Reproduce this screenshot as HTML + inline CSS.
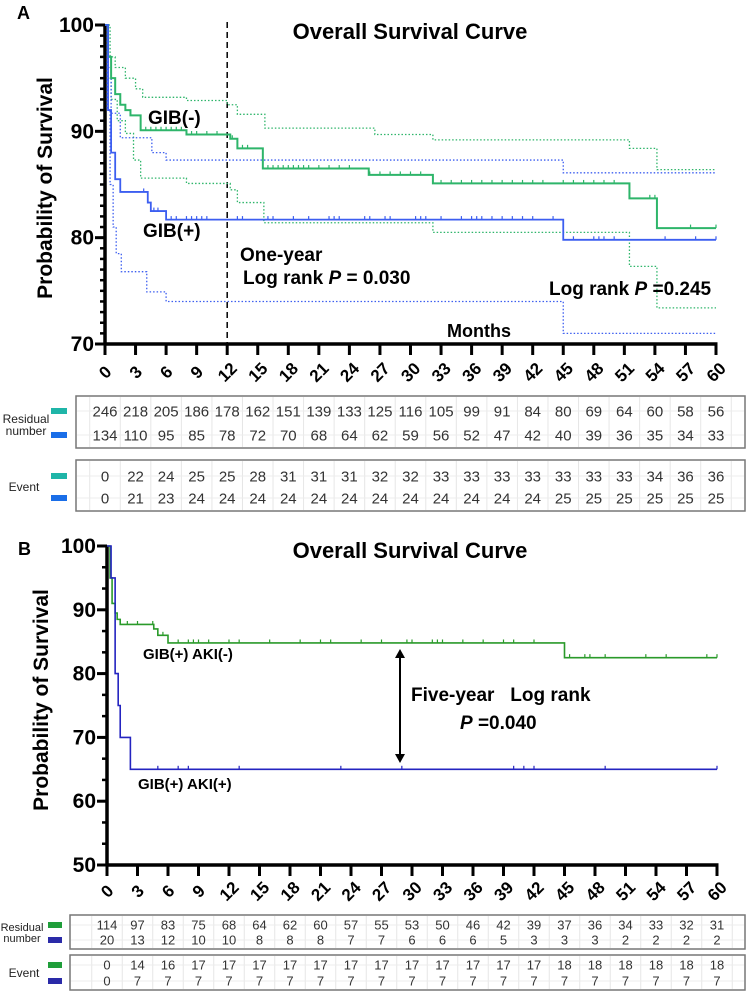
<!DOCTYPE html>
<html><head><meta charset="utf-8"><style>
body{margin:0;background:#fff;}
svg{display:block;font-family:"Liberation Sans",Arial,sans-serif;}
</style></head><body>
<svg id="s" width="748" height="991" viewBox="0 0 748 991" xmlns="http://www.w3.org/2000/svg">
<g id="gA"></g>
<g id="gB"></g>
</svg>
<script>
// ---------- Panel A data ----------
const xTicks=[0,3,6,9,12,15,18,21,24,27,30,33,36,39,42,45,48,51,54,57,60];
const aYTicks=[70,80,90,100];
const aNegT=[0,0.3,0.6,1,1.5,2,2.5,3.5,8,12.3,13,15.5,25.9,32.2,51.5,54.2];
const aNegV=[100,97,95,93.5,92.5,92,91.5,90.1,89.7,89.3,88.4,86.5,85.9,85.1,83.7,80.9];
const aPosT=[0,0.3,0.6,1,1.5,4.2,4.5,6,45];
const aPosV=[100,92,88,85.5,84.3,83.3,82.5,81.7,79.8];
const aNegUpT=[0,0.5,1,2,3,3.7,8,12,13,15.7,26.5,32.2,51.5,54.2];
const aNegUpV=[100,97,96,95,94,93.2,92.9,92.5,91.6,90.3,89.7,89.2,88.4,86.4];
const aNegLoT=[0,0.3,0.6,1.2,2,2.8,3.5,8,12.3,13,15.6,32.2,51.5,54.2];
const aNegLoV=[100,95,93,91,89.8,87.3,85.6,85.1,84.5,83.3,81.4,80.5,77.3,73.4];
const aPosUpT=[0,0.3,0.6,1.5,4.6,6,45];
const aPosUpV=[100,96,91.7,89.4,88,87.3,86.1];
const aPosLoT=[0,0.2,0.5,0.8,1.1,1.6,4.1,6,45];
const aPosLoV=[100,92,85,81,78.5,76.8,74.9,74,71];
const aNegCens=[4,4.5,5,5.5,6,6.5,7,7.5,8.5,9,10,11,12.5,13.5,14,16,16.5,17,17.5,18,18.5,19,19.5,20,21,22,23,24,26,27,28,29,30,31,33,34,35,36,37,38,39,40,41,42,43,45,46,47,48,49,50,53.5,54,57.5,60];
const aPosCens=[3.8,4.8,5.2,6.5,7,8,8.5,9,9.5,10,13,13.5,16,16.5,18.5,20,22,22.5,23,25.5,26,27.5,28,30.5,31,31.5,33,35,36,36.5,37,38,39,40,41,42,44,46,48,48.5,49,50,55,58,60];
const aResNeg=[246,218,205,186,178,162,151,139,133,125,116,105,99,91,84,80,69,64,60,58,56];
const aResPos=[134,110,95,85,78,72,70,68,64,62,59,56,52,47,42,40,39,36,35,34,33];
const aEvNeg=[0,22,24,25,25,28,31,31,31,32,32,33,33,33,33,33,33,33,34,36,36];
const aEvPos=[0,21,23,24,24,24,24,24,24,24,24,24,24,24,24,25,25,25,25,25,25];
// ---------- Panel B data ----------
const bYTicks=[50,60,70,80,90,100];
const bNegT=[0,0.3,0.5,0.8,1,1.3,4.6,5,6,45];
const bNegV=[100,95,91,89.5,88.5,87.7,87,86,84.8,82.5];
const bPosT=[0,0.4,0.8,1.1,1.3,2.3];
const bPosV=[100,95,80,75,70,65];
const bNegCens=[2,3,4.5,5,5.5,7,8,8.5,9,10,12,13,16,19,21,22,25,27,29.5,30,32,32.5,33,35,37,39,40,42,45.5,47,47.5,49,53,55,59,60];
const bPosCens=[5,7,8,13,23,29,40,41,42,49,60];
const bResNeg=[114,97,83,75,68,64,62,60,57,55,53,50,46,42,39,37,36,34,33,32,31];
const bResPos=[20,13,12,10,10,8,8,8,7,7,6,6,6,5,3,3,3,2,2,2,2];
const bEvNeg=[0,14,16,17,17,17,17,17,17,17,17,17,17,17,17,18,18,18,18,18,18];
const bEvPos=[0,7,7,7,7,7,7,7,7,7,7,7,7,7,7,7,7,7,7,7,7];

const NS='http://www.w3.org/2000/svg';
function el(p,tag,attrs,txt){const e=document.createElementNS(NS,tag);for(const k in attrs)e.setAttribute(k,attrs[k]);if(txt!==undefined)e.textContent=txt;p.appendChild(e);return e;}
function stepPath(T,V,X,Y){let d='M'+X(T[0])+','+Y(V[0]);for(let i=1;i<T.length;i++){d+=' H'+X(T[i])+' V'+Y(V[i]);}d+=' H'+X(60);return d;}
function valAt(T,V,t){let v=V[0];for(let i=0;i<T.length;i++){if(T[i]<=t)v=V[i];}return v;}

function axes(g,X,Y,yTicks,yMin,minorStep,tickLabelY){
  const x0=X(0),y0=Y(yMin);
  for(let v=yMin;v<=100.01;v+=minorStep){
    const t=el(g,'line',{x1:x0-5,x2:x0,y1:Y(v),y2:Y(v),stroke:'#000','stroke-width':2.5});
    
    
  }
  yTicks.forEach(v=>{
    const t=el(g,'line',{x1:x0-10,x2:x0,y1:Y(v),y2:Y(v),stroke:'#000','stroke-width':3});
    
    
    const l=el(g,'text',{x:x0-11,y:Y(v)+7,'text-anchor':'end','font-size':21,'font-weight':'bold'},v);
    
    
  });
  xTicks.forEach(v=>{
    const t=el(g,'line',{x1:X(v),x2:X(v),y1:y0,y2:y0+11,stroke:'#000','stroke-width':3});
    
    
    const l=el(g,'text',{x:X(v),y:tickLabelY,'text-anchor':'middle','font-size':17,'font-weight':'bold',transform:'rotate(-45 '+X(v)+' '+(tickLabelY-6)+')'},v);
    
    
  });
  const ya=el(g,'line',{x1:x0,x2:x0,y1:Y(100),y2:y0+1.5,stroke:'#000','stroke-width':3.5});
  
  
  const xa=el(g,'line',{x1:x0-1.5,x2:X(60)+1.5,y1:y0,y2:y0,stroke:'#000','stroke-width':3.5});
  
  
}
function curve(g,T,V,X,Y,color,w,dash,name){
  const p=el(g,'path',{d:stepPath(T,V,X,Y),fill:'none',stroke:color,'stroke-width':w});
  if(dash)p.setAttribute('stroke-dasharray',dash);
  
  
}
function censors(g,C,T,V,X,Y,color,name){
  C.forEach(t=>{
    const y=Y(valAt(T,V,t));
    const c=el(g,'line',{x1:X(t),x2:X(t),y1:y-3.5,y2:y,stroke:color,'stroke-width':1.2});
    
    
  });
}
function table(g,X,top,rows,colors,label,lx,ly,name){
  const h=top.h;
  const bx=el(g,'rect',{x:top.x0,y:top.y,width:745-top.x0,height:h,fill:'#fff',stroke:'#777','stroke-width':1.5});
  
  
  for(let i=0;i<=21;i++){
    const gx=X(i*3-1.5);
    if(gx>top.x0&&gx<745){const gl=el(g,'line',{x1:gx,x2:gx,y1:top.y+1,y2:top.y+h-1,stroke:'#e6e6e6','stroke-width':1});
    
    }
  }
  rows.forEach((r,ri)=>{
    const ry=top.rowY[ri];
    const hl=el(g,'line',{x1:top.x0+1,x2:744,y1:ry,y2:ry,stroke:'#ececec','stroke-width':1});
    
    
    const sw=el(g,'rect',{x:top.swx,y:ry-3,width:top.sww,height:6,fill:colors[ri]});
    
    
    r.forEach((v,i)=>{
      const t=el(g,'text',{x:X(xTicks[i]),y:ry+top.fs*0.36,'text-anchor':'middle','font-size':top.fs,fill:'#333'},v);
      
      
    });
  });
  label.forEach((s,i)=>{
    const t=el(g,'text',{x:lx,y:ly[i],'text-anchor':'middle','font-size':top.lfs,fill:'#222'},s);
    
    
  });
}
function txt(g,x,y,s,fs,name,opts){
  const t=el(g,'text',Object.assign({x:x,y:y,'font-size':fs,'font-weight':'bold'},opts||{}));
  if(Array.isArray(s)){s.forEach(p=>{el(t,'tspan',p.i?{'font-style':'italic'}:{},p.t);});}else t.textContent=s;
  
  
  return t;
}

// ===== Panel A =====
const gA=document.getElementById('gA');
const XA=t=>105+t*(611/60);
const YA=v=>25+(100-v)*(319/30);
const GA='#2eb56a',BA='#3c5ef0';
axes(gA,XA,YA,aYTicks,70,1,378);
const vl=el(gA,'line',{x1:XA(12),x2:XA(12),y1:22,y2:344,stroke:'#000','stroke-width':1.5,'stroke-dasharray':'6,4'});


curve(gA,aNegUpT,aNegUpV,XA,YA,GA,1.3,'1.5,2','gib-neg-upper-ci');
curve(gA,aNegLoT,aNegLoV,XA,YA,GA,1.3,'1.5,2','gib-neg-lower-ci');
curve(gA,aPosUpT,aPosUpV,XA,YA,BA,1.3,'1.5,2','gib-pos-upper-ci');
curve(gA,aPosLoT,aPosLoV,XA,YA,BA,1.3,'1.5,2','gib-pos-lower-ci');
curve(gA,aNegT,aNegV,XA,YA,GA,2,null,'gib-neg-curve');
curve(gA,aPosT,aPosV,XA,YA,BA,1.8,null,'gib-pos-curve');
censors(gA,aNegCens,aNegT,aNegV,XA,YA,GA,'gib-neg-censor');
censors(gA,aPosCens,aPosT,aPosV,XA,YA,BA,'gib-pos-censor');
txt(gA,17,19,'A',18,'panel-a-label');
txt(gA,410,39,'Overall Survival Curve',22,'panel-a-title',{'text-anchor':'middle'});
txt(gA,0,0,'Probability of Survival',21,'panel-a-y-axis-title',{'text-anchor':'middle',transform:'translate(52,188) rotate(-90)'});
txt(gA,148,124,'GIB(-)',19,'gib-neg-label');
txt(gA,143,237,'GIB(+)',19,'gib-pos-label');
txt(gA,240,261,'One-year',19,'one-year-label');
txt(gA,243,284,[{t:'Log rank '},{t:'P',i:1},{t:' = 0.030'}],19,'one-year-p-value');
txt(gA,549,295,[{t:'Log rank '},{t:'P',i:1},{t:' =0.245'}],19,'overall-p-value');
txt(gA,447,337,'Months',18,'x-axis-title');
table(gA,XA,{x0:76,y:396,h:52,rowY:[411,435],swx:51,sww:16,fs:15,lfs:12},[aResNeg,aResPos],['#1fb5a8','#1a6ee8'],['Residual','number'],26,[423,435],'residual-table-a');
table(gA,XA,{x0:76,y:460,h:51,rowY:[476,498],swx:51,sww:16,fs:15,lfs:12},[aEvNeg,aEvPos],['#1fb5a8','#1a6ee8'],['Event'],24,[491],'event-table-a');

// ===== Panel B =====
const gB=document.getElementById('gB');
const XB=t=>107+t*(610/60);
const YB=v=>546+(100-v)*(319/50);
const GB='#2a9a2a',BB='#2424c0';
axes(gB,XB,YB,bYTicks,50,10/3,897);
curve(gB,bNegT,bNegV,XB,YB,GB,1.6,null,'aki-neg-curve');
curve(gB,bPosT,bPosV,XB,YB,BB,1.6,null,'aki-pos-curve');
censors(gB,bNegCens,bNegT,bNegV,XB,YB,GB,'aki-neg-censor');
censors(gB,bPosCens,bPosT,bPosV,XB,YB,BB,'aki-pos-censor');
const ar=el(gB,'g',{});


el(ar,'line',{x1:400,x2:400,y1:656,y2:756,stroke:'#000','stroke-width':2});
el(ar,'path',{d:'M395,658 L400,649 L405,658 Z',fill:'#000'});
el(ar,'path',{d:'M395,754 L400,763 L405,754 Z',fill:'#000'});
txt(gB,18,555,'B',18,'panel-b-label');
txt(gB,410,558,'Overall Survival Curve',22,'panel-b-title',{'text-anchor':'middle'});
txt(gB,0,0,'Probability of Survival',21,'panel-b-y-axis-title',{'text-anchor':'middle',transform:'translate(48,700) rotate(-90)'});
txt(gB,143,659,'GIB(+) AKI(-)',15,'aki-neg-label');
txt(gB,138,789,'GIB(+) AKI(+)',15,'aki-pos-label');
txt(gB,411,701,'Five-year   Log rank',19,'five-year-label',{style:'white-space:pre'});
txt(gB,460,729,[{t:'P',i:1},{t:' =0.040'}],19,'five-year-p-value');
table(gB,XB,{x0:70,y:915,h:34,rowY:[925,940],swx:48,sww:14,fs:13,lfs:11},[bResNeg,bResPos],['#1f9e3a','#2a2aa8'],['Residual','number'],22,[931,942],'residual-table-b');
table(gB,XB,{x0:70,y:955,h:35,rowY:[965,981],swx:48,sww:14,fs:13,lfs:12},[bEvNeg,bEvPos],['#1f9e3a','#2a2aa8'],['Event'],24,[977],'event-table-b');
</script>
</body></html>
